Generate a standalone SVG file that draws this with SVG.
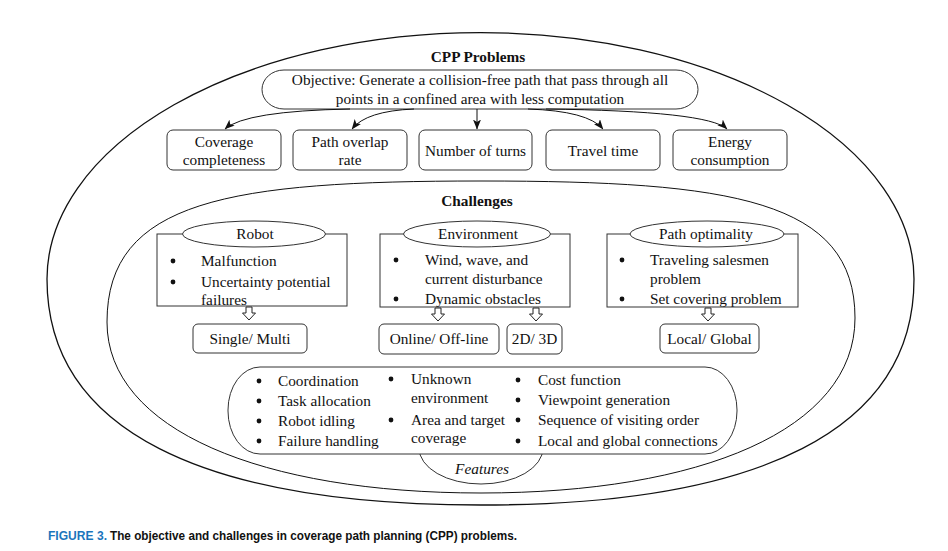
<svg xmlns="http://www.w3.org/2000/svg" width="948" height="551" viewBox="0 0 948 551">
<defs>
<marker id="ah" markerUnits="userSpaceOnUse" markerWidth="10" markerHeight="8" refX="9.5" refY="4" orient="auto">
<path d="M0,0 L10,4 L0,8 L2.5,4 z" fill="#111"/>
</marker>
<path id="hollow" d="M-3,0 L3,0 L3,6 L6.5,6 L0,13 L-6.5,6 L-3,6 Z"/>
</defs>
<style>
.t{font-family:"Liberation Serif","Times New Roman",serif;font-size:15.3px;fill:#111}
.c{text-anchor:middle}
.b{font-weight:bold}
.box{fill:#fff;stroke:#333;stroke-width:1}
.open{fill:none;stroke:#333;stroke-width:1}
.lab{fill:#fff;stroke:#333;stroke-width:1}
.con{fill:none;stroke:#111;stroke-width:1}
.ha{fill:#fff;stroke:#222;stroke-width:1}
.dot{fill:#111}
</style>
<rect width="948" height="551" fill="#fff"/>

<g id="outer">
<path d="M47,279 A433.5,246.5 0 0 1 914,279 C914,430 760,505 481,505 C202,505 47,430 47,279 Z" fill="none" stroke="#111" stroke-width="1.3"/>
<text class="t c b" x="478" y="62">CPP Problems</text>
</g>

<g id="objective">
<rect x="262" y="70" width="436" height="39" rx="22" ry="19.5" class="box"/>
<text class="t c" x="480" y="85">Objective: Generate a collision-free path that pass through all</text>
<text class="t c" x="480" y="104">points in a confined area with less computation</text>
</g>

<g id="connectors">
<path class="con" d="M350,109 Q245,111 225,129" marker-end="url(#ah)"/>
<path class="con" d="M414,109 Q366,111 352,129" marker-end="url(#ah)"/>
<path class="con" d="M477,109 L477,129" marker-end="url(#ah)"/>
<path class="con" d="M528,109 Q588,111 603,129" marker-end="url(#ah)"/>
<path class="con" d="M546,109 Q708,111 727,129" marker-end="url(#ah)"/>
<use href="#hollow" x="249" y="307" class="ha"/>
<use href="#hollow" x="438" y="308" class="ha"/>
<use href="#hollow" x="536" y="308" class="ha"/>
<use href="#hollow" x="708" y="308" class="ha"/>
</g>

<g id="coverage">
<rect x="167" y="130" width="114" height="40" rx="6" class="box"/>
<text class="t c" x="224" y="147">Coverage</text>
<text class="t c" x="224" y="165">completeness</text>
</g>
<g id="overlap">
<rect x="293" y="130" width="114" height="40" rx="6" class="box"/>
<text class="t c" x="350" y="147">Path overlap</text>
<text class="t c" x="350" y="165">rate</text>
</g>
<g id="turns">
<rect x="419" y="130" width="113" height="40" rx="6" class="box"/>
<text class="t c" x="475.5" y="156">Number of turns</text>
</g>
<g id="travel">
<rect x="546" y="130" width="114" height="40" rx="6" class="box"/>
<text class="t c" x="603" y="156">Travel time</text>
</g>
<g id="energy">
<rect x="673" y="130" width="114" height="40" rx="6" class="box"/>
<text class="t c" x="730" y="147">Energy</text>
<text class="t c" x="730" y="165">consumption</text>
</g>

<g id="challenges">
<path d="M107,322 C107,200 230,181 481,181 C732,181 855,200 855,318 C855,430 700,493 481,493 C262,493 107,430 107,322 Z" fill="none" stroke="#111" stroke-width="1"/>
<text class="t c b" x="477" y="206">Challenges</text>
</g>

<g id="robot">
<circle class="dot" cx="173" cy="261" r="2.4"/>
<text class="t" x="201" y="266">Malfunction</text>
<circle class="dot" cx="173" cy="282" r="2.4"/>
<text class="t" x="201" y="287">Uncertainty potential</text>
<text class="t" x="201" y="305">failures</text>
<rect x="157" y="234" width="190" height="72" class="open"/>
<ellipse cx="254" cy="234" rx="71.5" ry="13" class="lab"/>
<text class="t c" x="255" y="239">Robot</text>
</g>

<g id="environment">
<circle class="dot" cx="396" cy="260" r="2.4"/>
<text class="t" x="425" y="265">Wind, wave, and</text>
<text class="t" x="425" y="284">current disturbance</text>
<circle class="dot" cx="396" cy="299" r="2.4"/>
<text class="t" x="425" y="304">Dynamic obstacles</text>
<rect x="380" y="234" width="190" height="73" class="open"/>
<ellipse cx="477" cy="234" rx="73.5" ry="13" class="lab"/>
<text class="t c" x="478" y="239">Environment</text>
</g>

<g id="pathopt">
<circle class="dot" cx="622" cy="260" r="2.4"/>
<text class="t" x="650" y="265">Traveling salesmen</text>
<text class="t" x="650" y="284">problem</text>
<circle class="dot" cx="622" cy="299" r="2.4"/>
<text class="t" x="650" y="304">Set covering problem</text>
<rect x="607" y="234" width="191" height="73" class="open"/>
<ellipse cx="707" cy="234" rx="77" ry="13" class="lab"/>
<text class="t c" x="706" y="239">Path optimality</text>
</g>

<g id="single">
<rect x="193" y="324" width="114" height="29" rx="5" class="box"/>
<text class="t c" x="250" y="344">Single/ Multi</text>
</g>
<g id="online">
<rect x="379" y="324" width="120" height="30" rx="5" class="box"/>
<text class="t c" x="439" y="344">Online/ Off-line</text>
</g>
<g id="dim">
<rect x="507" y="324" width="55" height="30" rx="5" class="box"/>
<text class="t c" x="534.5" y="344">2D/ 3D</text>
</g>
<g id="local">
<rect x="660" y="324" width="99" height="29" rx="5" class="box"/>
<text class="t c" x="709.5" y="344">Local/ Global</text>
</g>

<g id="features">
<ellipse cx="481" cy="448" rx="62" ry="36" fill="#fff" stroke="#333" stroke-width="1"/>
<text class="t c" x="482" y="474" font-style="italic">Features</text>
<rect x="228" y="367" width="509" height="87" rx="32" ry="43" class="box"/>
<circle class="dot" cx="259" cy="381" r="2.4"/>
<text class="t" x="278" y="386">Coordination</text>
<circle class="dot" cx="259" cy="401" r="2.4"/>
<text class="t" x="278" y="406">Task allocation</text>
<circle class="dot" cx="259" cy="421" r="2.4"/>
<text class="t" x="278" y="426">Robot idling</text>
<circle class="dot" cx="259" cy="441" r="2.4"/>
<text class="t" x="278" y="446">Failure handling</text>
<circle class="dot" cx="391" cy="379" r="2.4"/>
<text class="t" x="411" y="384">Unknown</text>
<text class="t" x="411" y="403">environment</text>
<circle class="dot" cx="391" cy="420" r="2.4"/>
<text class="t" x="411" y="425">Area and target</text>
<text class="t" x="411" y="443">coverage</text>
<circle class="dot" cx="518" cy="380" r="2.4"/>
<text class="t" x="538" y="385">Cost function</text>
<circle class="dot" cx="518" cy="400" r="2.4"/>
<text class="t" x="538" y="405">Viewpoint generation</text>
<circle class="dot" cx="518" cy="420" r="2.4"/>
<text class="t" x="538" y="425">Sequence of visiting order</text>
<circle class="dot" cx="518" cy="441" r="2.4"/>
<text class="t" x="538" y="446">Local and global connections</text>
</g>

<g id="caption">
<text x="48" y="540" font-family="'Liberation Sans',Arial,sans-serif" font-size="12.5" font-weight="bold" fill="#1b75bc" textLength="59" lengthAdjust="spacingAndGlyphs">FIGURE 3.</text>
<text x="110" y="540" font-family="'Liberation Sans',Arial,sans-serif" font-size="12.5" font-weight="bold" fill="#111" textLength="407" lengthAdjust="spacingAndGlyphs">The objective and challenges in coverage path planning (CPP) problems.</text>
</g>
</svg>
